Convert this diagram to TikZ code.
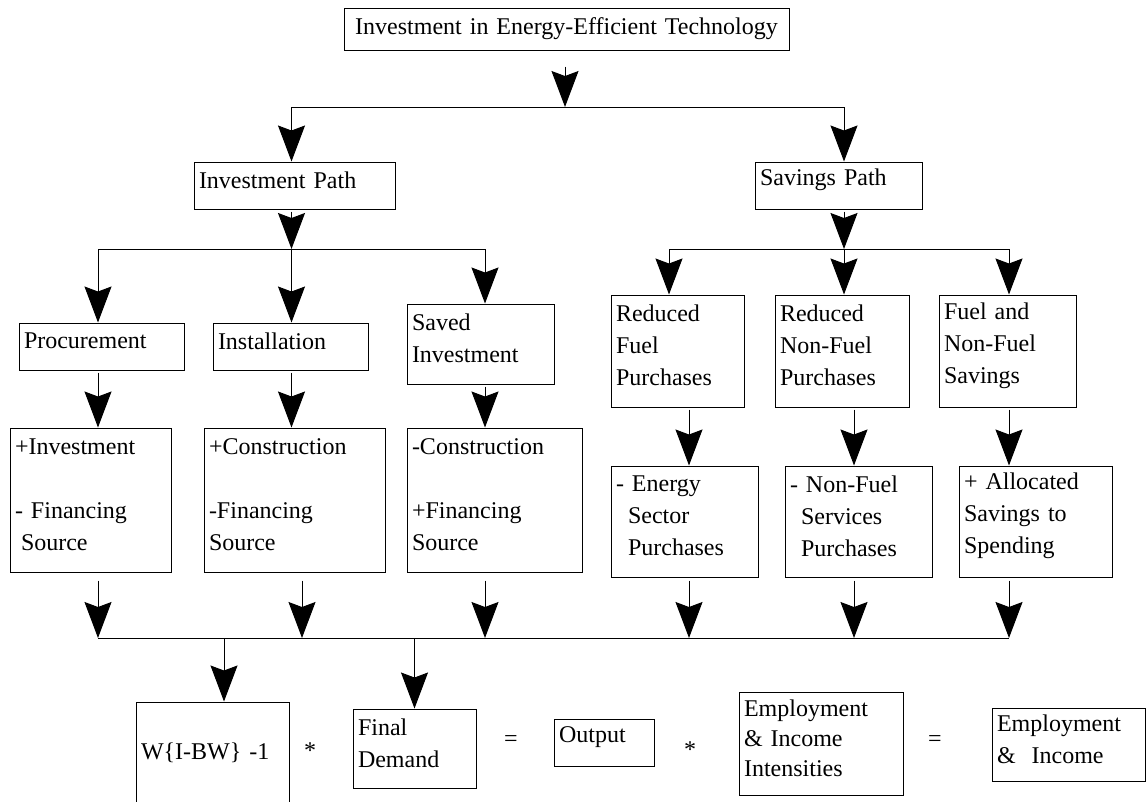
\documentclass[tikz,border=0pt]{standalone}
\usepackage{fontspec}
\setmainfont{Liberation Serif}
\usetikzlibrary{arrows.meta}

\begin{document}
\begin{tikzpicture}[%
      x=1pt, y=-1pt,
      plain/.style={draw, line width=1pt, inner xsep=5pt, inner ysep=0pt, align=left,
        font=\fontsize{24}{32}\selectfont},
      box/.style={plain, execute at end node={\endgraf\vspace{11pt}}},
      arr/.style={line width=1pt, -{Stealth[length=36pt, width=27pt, inset=5pt]}},
      sym/.style={font=\fontsize{24}{32}\selectfont, inner sep=0pt, anchor=base},
      ]
      \useasboundingbox (0,0) rectangle (1148,801);
      \clip (0,0) rectangle (1148,801);

      \node[plain, align=center, text width=435pt, minimum height=42] (top) at (566.5,29) {Investment in Energy-Efficient Technology};

      \node[box, text width=191pt, minimum height=47] (invpath) at (294.5,185.5) {Investment Path};
      \node[box, text width=157pt, minimum height=47] (savpath) at (838.5,185.5) {Savings Path};

      \node[box, text width=155pt, minimum height=47] (proc) at (101.5,346.5) {Procurement};
      \node[box, text width=145pt, minimum height=47] (inst) at (290.5,346.5) {Installation};
      \node[box, text width=137pt, minimum height=80] (saved) at (480.5,344) {Saved\\Investment};
      \node[box, text width=123pt, minimum height=112] (redfuel) at (677.5,351) {Reduced\\Fuel\\Purchases};
      \node[box, text width=124pt, minimum height=112] (rednon) at (842,351) {Reduced\\Non-Fuel\\Purchases};
      \node[box, text width=127pt, minimum height=112] (fuelsave) at (1007.5,351) {Fuel and\\Non-Fuel\\Savings};

      \node[box, text width=151pt, minimum height=144] (plusinv) at (90.5,500) {+Investment\\[32pt]- Financing\\\hspace*{6pt}Source};
      \node[box, text width=171pt, minimum height=144] (pluscons) at (294.5,500) {+Construction\\[32pt]-Financing\\Source};
      \node[box, text width=165pt, minimum height=144] (minuscons) at (494.5,500) {-Construction\\[32pt]+Financing\\Source};
      \node[box, text width=137pt, minimum height=111] (energy) at (684.5,521.5) {- Energy\\\hspace*{12pt}Sector\\\hspace*{12pt}Purchases};
      \node[box, text width=137pt, minimum height=111] (nonfuel) at (858.5,521.5) {- Non-Fuel\\\hspace*{11pt}Services\\\hspace*{11pt}Purchases};
      \node[box, text width=143pt, minimum height=111] (alloc) at (1035.5,521.5) {+ Allocated\\Savings to\\Spending};

      \node[plain, text width=143pt, minimum height=102] (wbox) at (212.5,753) {W\{I-BW\}\ -1};
      \node[box, text width=113pt, minimum height=79] (findem) at (414.5,748.5) {Final\\Demand};
      \node[box, text width=90pt, minimum height=47] (output) at (604,742.5) {Output};
      \node[box, text width=154pt, minimum height=103, font=\fontsize{24}{30}\selectfont] (intens) at (821,743.5) {Employment\\\& Income\\Intensities};
      \node[box, text width=143pt, minimum height=73] (empinc) at (1068.5,744.5) {Employment\\\&~~Income};

      \node[sym] (times1) at (310,758) {*};
      \node[sym] (eq1) at (511,746) {=};
      \node[sym] (times2) at (690,757) {*};
      \node[sym] (eq2) at (935,746) {=};

      % junctions
      \coordinate (j1) at (565,107);
      \coordinate (j2) at (291.5,249);
      \coordinate (j3) at (844,249);
      \coordinate (d1) at (669,249);
      \coordinate (k1) at (98,638);
      \coordinate (k2) at (302,638);
      \coordinate (k3) at (485,638);
      \coordinate (k4) at (689,638);
      \coordinate (k5) at (854,638);
      \coordinate (k6) at (1009,638);
      \coordinate (m1) at (224,638);
      \coordinate (m2) at (414.5,638);

      \draw[arr, shorten <=16pt] (top.south -| j1) -- (j1);
      \draw[arr] (j1) -| (invpath.north -| j2);
      \draw[arr] (j1) -| (savpath.north -| j3);

      \draw[arr, shorten <=2pt] (invpath.south -| j2) -- (j2);
      \draw[arr, shorten <=2pt] (savpath.south -| j3) -- (j3);
      \draw[arr] (j2) -| (proc.north -| k1);
      \draw[arr] (j2) -- (inst.north -| j2);
      \draw[arr] (j2) -| (saved.north -| k3);
      \draw[arr] (j3) -| (redfuel.north -| d1);
      \draw[arr] (j3) -- (rednon.north -| j3);
      \draw[arr] (j3) -| (fuelsave.north -| k6);

      \draw[arr, shorten <=2pt] (proc.south -| k1) -- (plusinv.north -| k1);
      \draw[arr, shorten <=2pt] (inst.south -| j2) -- (pluscons.north -| j2);
      \draw[arr, shorten <=2pt] (saved.south -| k3) -- (minuscons.north -| k3);
      \draw[arr, shorten <=2pt] (redfuel.south -| k4) -- (energy.north -| k4);
      \draw[arr, shorten <=2pt] (rednon.south -| k5) -- (nonfuel.north -| k5);
      \draw[arr, shorten <=2pt] (fuelsave.south -| k6) -- (alloc.north -| k6);

      \draw[arr, shorten <=8pt] (plusinv.south -| k1) -- (k1);
      \draw[arr, shorten <=8pt] (pluscons.south -| k2) -- (k2);
      \draw[arr, shorten <=8pt] (minuscons.south -| k3) -- (k3);
      \draw[arr, shorten <=3pt] (energy.south -| k4) -- (k4);
      \draw[arr, shorten <=3pt] (nonfuel.south -| k5) -- (k5);
      \draw[arr, shorten <=3pt] (alloc.south -| k6) -- (k6);
      \draw[line width=1pt] (k1) -- (k6);

      \draw[arr] (m1) -- (wbox.north -| m1);
      \draw[arr] (m2) -- (findem.north -| m2);
      \end{tikzpicture}
\end{document}
